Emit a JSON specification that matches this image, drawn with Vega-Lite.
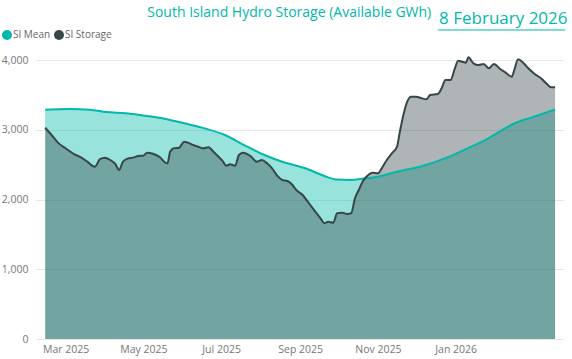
{
  "$schema": "https://vega.github.io/schema/vega-lite/v6.json",
  "width": 529,
  "height": 279,
  "autosize": {"type": "none"},
  "padding": {"left": 35, "top": 60, "right": 8, "bottom": 20},
  "background": "white",
  "config": {
    "view": {"stroke": null},
    "font": "Open Sans",
    "text": {"font": "Open Sans"}
  },
  "title": {
    "text": "South Island Hydro Storage (Available GWh)",
    "anchor": "start",
    "dx": 146,
    "dy": 14,
    "fontSize": 14,
    "fontWeight": "normal",
    "color": "#01B8AA",
    "font": "Open Sans"
  },
  "datasets": {
    "hydro": [
      {"date": "2025-02-13", "series": "SI Mean", "gwh": 3288},
      {"date": "2025-03-04", "series": "SI Mean", "gwh": 3297},
      {"date": "2025-03-20", "series": "SI Mean", "gwh": 3288},
      {"date": "2025-04-02", "series": "SI Mean", "gwh": 3255},
      {"date": "2025-04-17", "series": "SI Mean", "gwh": 3236},
      {"date": "2025-04-28", "series": "SI Mean", "gwh": 3212},
      {"date": "2025-05-11", "series": "SI Mean", "gwh": 3178},
      {"date": "2025-05-22", "series": "SI Mean", "gwh": 3140},
      {"date": "2025-06-02", "series": "SI Mean", "gwh": 3092},
      {"date": "2025-06-18", "series": "SI Mean", "gwh": 3020},
      {"date": "2025-07-04", "series": "SI Mean", "gwh": 2925},
      {"date": "2025-07-19", "series": "SI Mean", "gwh": 2781},
      {"date": "2025-08-04", "series": "SI Mean", "gwh": 2638},
      {"date": "2025-08-18", "series": "SI Mean", "gwh": 2542},
      {"date": "2025-08-29", "series": "SI Mean", "gwh": 2485},
      {"date": "2025-09-07", "series": "SI Mean", "gwh": 2433},
      {"date": "2025-09-20", "series": "SI Mean", "gwh": 2337},
      {"date": "2025-09-30", "series": "SI Mean", "gwh": 2285},
      {"date": "2025-10-10", "series": "SI Mean", "gwh": 2280},
      {"date": "2025-10-21", "series": "SI Mean", "gwh": 2300},
      {"date": "2025-11-01", "series": "SI Mean", "gwh": 2327},
      {"date": "2025-11-16", "series": "SI Mean", "gwh": 2399},
      {"date": "2025-12-04", "series": "SI Mean", "gwh": 2470},
      {"date": "2025-12-25", "series": "SI Mean", "gwh": 2600},
      {"date": "2026-01-10", "series": "SI Mean", "gwh": 2730},
      {"date": "2026-01-26", "series": "SI Mean", "gwh": 2870},
      {"date": "2026-02-05", "series": "SI Mean", "gwh": 2980},
      {"date": "2026-02-16", "series": "SI Mean", "gwh": 3090},
      {"date": "2026-03-04", "series": "SI Mean", "gwh": 3190},
      {"date": "2026-03-20", "series": "SI Mean", "gwh": 3292},
      {"date": "2025-02-13", "series": "SI Storage", "gwh": 3029},
      {"date": "2025-02-18", "series": "SI Storage", "gwh": 2925},
      {"date": "2025-02-23", "series": "SI Storage", "gwh": 2815},
      {"date": "2025-03-01", "series": "SI Storage", "gwh": 2734},
      {"date": "2025-03-08", "series": "SI Storage", "gwh": 2648},
      {"date": "2025-03-13", "series": "SI Storage", "gwh": 2605},
      {"date": "2025-03-18", "series": "SI Storage", "gwh": 2542},
      {"date": "2025-03-24", "series": "SI Storage", "gwh": 2470},
      {"date": "2025-03-28", "series": "SI Storage", "gwh": 2580},
      {"date": "2025-04-01", "series": "SI Storage", "gwh": 2600},
      {"date": "2025-04-05", "series": "SI Storage", "gwh": 2566},
      {"date": "2025-04-09", "series": "SI Storage", "gwh": 2509},
      {"date": "2025-04-12", "series": "SI Storage", "gwh": 2423},
      {"date": "2025-04-15", "series": "SI Storage", "gwh": 2542},
      {"date": "2025-04-19", "series": "SI Storage", "gwh": 2590},
      {"date": "2025-04-23", "series": "SI Storage", "gwh": 2600},
      {"date": "2025-04-27", "series": "SI Storage", "gwh": 2624},
      {"date": "2025-05-01", "series": "SI Storage", "gwh": 2628},
      {"date": "2025-05-04", "series": "SI Storage", "gwh": 2671},
      {"date": "2025-05-09", "series": "SI Storage", "gwh": 2652},
      {"date": "2025-05-14", "series": "SI Storage", "gwh": 2605},
      {"date": "2025-05-18", "series": "SI Storage", "gwh": 2533},
      {"date": "2025-05-20", "series": "SI Storage", "gwh": 2519},
      {"date": "2025-05-22", "series": "SI Storage", "gwh": 2686},
      {"date": "2025-05-25", "series": "SI Storage", "gwh": 2734},
      {"date": "2025-05-29", "series": "SI Storage", "gwh": 2743},
      {"date": "2025-06-02", "series": "SI Storage", "gwh": 2829},
      {"date": "2025-06-05", "series": "SI Storage", "gwh": 2815},
      {"date": "2025-06-09", "series": "SI Storage", "gwh": 2781},
      {"date": "2025-06-13", "series": "SI Storage", "gwh": 2757},
      {"date": "2025-06-17", "series": "SI Storage", "gwh": 2734},
      {"date": "2025-06-21", "series": "SI Storage", "gwh": 2748},
      {"date": "2025-06-25", "series": "SI Storage", "gwh": 2686},
      {"date": "2025-06-29", "series": "SI Storage", "gwh": 2614},
      {"date": "2025-07-02", "series": "SI Storage", "gwh": 2557},
      {"date": "2025-07-05", "series": "SI Storage", "gwh": 2485},
      {"date": "2025-07-08", "series": "SI Storage", "gwh": 2504},
      {"date": "2025-07-12", "series": "SI Storage", "gwh": 2485},
      {"date": "2025-07-15", "series": "SI Storage", "gwh": 2638},
      {"date": "2025-07-18", "series": "SI Storage", "gwh": 2671},
      {"date": "2025-07-24", "series": "SI Storage", "gwh": 2624},
      {"date": "2025-07-29", "series": "SI Storage", "gwh": 2542},
      {"date": "2025-08-02", "series": "SI Storage", "gwh": 2566},
      {"date": "2025-08-06", "series": "SI Storage", "gwh": 2519},
      {"date": "2025-08-10", "series": "SI Storage", "gwh": 2447},
      {"date": "2025-08-14", "series": "SI Storage", "gwh": 2342},
      {"date": "2025-08-18", "series": "SI Storage", "gwh": 2280},
      {"date": "2025-08-22", "series": "SI Storage", "gwh": 2265},
      {"date": "2025-08-26", "series": "SI Storage", "gwh": 2208},
      {"date": "2025-08-29", "series": "SI Storage", "gwh": 2136},
      {"date": "2025-09-03", "series": "SI Storage", "gwh": 2065},
      {"date": "2025-09-07", "series": "SI Storage", "gwh": 1969},
      {"date": "2025-09-12", "series": "SI Storage", "gwh": 1849},
      {"date": "2025-09-17", "series": "SI Storage", "gwh": 1730},
      {"date": "2025-09-20", "series": "SI Storage", "gwh": 1659},
      {"date": "2025-09-23", "series": "SI Storage", "gwh": 1682},
      {"date": "2025-09-27", "series": "SI Storage", "gwh": 1668},
      {"date": "2025-09-30", "series": "SI Storage", "gwh": 1802},
      {"date": "2025-10-04", "series": "SI Storage", "gwh": 1811},
      {"date": "2025-10-08", "series": "SI Storage", "gwh": 1792},
      {"date": "2025-10-11", "series": "SI Storage", "gwh": 1802},
      {"date": "2025-10-14", "series": "SI Storage", "gwh": 2017},
      {"date": "2025-10-17", "series": "SI Storage", "gwh": 2136},
      {"date": "2025-10-20", "series": "SI Storage", "gwh": 2256},
      {"date": "2025-10-23", "series": "SI Storage", "gwh": 2327},
      {"date": "2025-10-28", "series": "SI Storage", "gwh": 2385},
      {"date": "2025-11-01", "series": "SI Storage", "gwh": 2375},
      {"date": "2025-11-04", "series": "SI Storage", "gwh": 2447},
      {"date": "2025-11-08", "series": "SI Storage", "gwh": 2566},
      {"date": "2025-11-12", "series": "SI Storage", "gwh": 2662},
      {"date": "2025-11-16", "series": "SI Storage", "gwh": 2757},
      {"date": "2025-11-18", "series": "SI Storage", "gwh": 2949},
      {"date": "2025-11-21", "series": "SI Storage", "gwh": 3212},
      {"date": "2025-11-24", "series": "SI Storage", "gwh": 3402},
      {"date": "2025-11-27", "series": "SI Storage", "gwh": 3474},
      {"date": "2025-12-01", "series": "SI Storage", "gwh": 3474},
      {"date": "2025-12-04", "series": "SI Storage", "gwh": 3460},
      {"date": "2025-12-09", "series": "SI Storage", "gwh": 3436},
      {"date": "2025-12-12", "series": "SI Storage", "gwh": 3498},
      {"date": "2025-12-18", "series": "SI Storage", "gwh": 3513},
      {"date": "2025-12-21", "series": "SI Storage", "gwh": 3594},
      {"date": "2025-12-24", "series": "SI Storage", "gwh": 3713},
      {"date": "2025-12-28", "series": "SI Storage", "gwh": 3713},
      {"date": "2025-12-31", "series": "SI Storage", "gwh": 3857},
      {"date": "2026-01-03", "series": "SI Storage", "gwh": 3990},
      {"date": "2026-01-06", "series": "SI Storage", "gwh": 3976},
      {"date": "2026-01-09", "series": "SI Storage", "gwh": 3962},
      {"date": "2026-01-11", "series": "SI Storage", "gwh": 4038},
      {"date": "2026-01-15", "series": "SI Storage", "gwh": 3952},
      {"date": "2026-01-19", "series": "SI Storage", "gwh": 3928},
      {"date": "2026-01-23", "series": "SI Storage", "gwh": 3943},
      {"date": "2026-01-27", "series": "SI Storage", "gwh": 3881},
      {"date": "2026-01-31", "series": "SI Storage", "gwh": 3943},
      {"date": "2026-02-05", "series": "SI Storage", "gwh": 3871},
      {"date": "2026-02-09", "series": "SI Storage", "gwh": 3823},
      {"date": "2026-02-14", "series": "SI Storage", "gwh": 3761},
      {"date": "2026-02-16", "series": "SI Storage", "gwh": 3857},
      {"date": "2026-02-19", "series": "SI Storage", "gwh": 4010},
      {"date": "2026-02-23", "series": "SI Storage", "gwh": 3962},
      {"date": "2026-02-27", "series": "SI Storage", "gwh": 3881},
      {"date": "2026-03-04", "series": "SI Storage", "gwh": 3799},
      {"date": "2026-03-09", "series": "SI Storage", "gwh": 3737},
      {"date": "2026-03-13", "series": "SI Storage", "gwh": 3666},
      {"date": "2026-03-17", "series": "SI Storage", "gwh": 3608},
      {"date": "2026-03-20", "series": "SI Storage", "gwh": 3608}
    ]
  },
  "layer": [
    {
      "data": {"name": "hydro"},
      "mark": {"type": "area", "opacity": 0.4, "interpolate": "monotone"},
      "encoding": {
        "x": {
          "field": "date", "type": "temporal",
          "scale": {"domain": [{"year": 2025, "month": 2, "date": 5}, {"year": 2026, "month": 3, "date": 27}]},
          "axis": {
            "title": null,
            "format": "%b %Y",
            "values": [
              {"year": 2025, "month": 3, "date": 1},
              {"year": 2025, "month": 5, "date": 1},
              {"year": 2025, "month": 7, "date": 1},
              {"year": 2025, "month": 9, "date": 1},
              {"year": 2025, "month": 11, "date": 1},
              {"year": 2026, "month": 1, "date": 1}
            ],
            "grid": false, "domain": false, "ticks": false,
            "labelPadding": 5, "labelFontSize": 10.5, "labelColor": "#777777",
            "labelFont": "Open Sans"
          }
        },
        "y": {
          "field": "gwh", "type": "quantitative", "stack": null,
          "scale": {"domain": [0, 4000], "nice": false},
          "axis": {
            "title": null,
            "values": [0, 1000, 2000, 3000, 4000],
            "format": ",d",
            "domain": false, "ticks": false,
            "gridColor": "#e6e6e6", "gridWidth": 1,
            "labelPadding": 7, "labelFontSize": 10.5, "labelColor": "#777777",
            "labelFont": "Open Sans"
          }
        },
        "color": {
          "field": "series", "type": "nominal",
          "scale": {"domain": ["SI Mean", "SI Storage"], "range": ["#01B8AA", "#374649"]},
          "legend": {
            "title": null, "orient": "none", "direction": "horizontal",
            "legendX": -33, "legendY": -30,
            "symbolType": "circle", "symbolSize": 100, "symbolOpacity": 1,
            "symbolStrokeWidth": 0,
            "labelFontSize": 10, "labelColor": "#666666", "labelFont": "Open Sans",
            "labelOffset": 1, "columnPadding": 3
          }
        }
      }
    },
    {
      "data": {"name": "hydro"},
      "mark": {"type": "line", "strokeWidth": 2, "interpolate": "monotone"},
      "encoding": {
        "x": {"field": "date", "type": "temporal"},
        "y": {"field": "gwh", "type": "quantitative"},
        "color": {"field": "series", "type": "nominal"}
      }
    },
    {
      "data": {"values": [{}]},
      "mark": {"type": "text", "align": "left", "baseline": "alphabetic", "fontSize": 17, "font": "Open Sans", "color": "#01B8AA"},
      "encoding": {
        "x": {"datum": {"year": 2025, "month": 12, "date": 19}, "type": "temporal"},
        "y": {"datum": 4515, "type": "quantitative"},
        "text": {"value": "8 February 2026"}
      }
    },
    {
      "data": {"values": [{}]},
      "mark": {"type": "rule", "color": "#01B8AA", "strokeWidth": 1},
      "encoding": {
        "x": {"datum": {"year": 2025, "month": 12, "date": 18}, "type": "temporal"},
        "x2": {"datum": {"year": 2026, "month": 3, "date": 28}},
        "y": {"datum": 4430, "type": "quantitative"}
      }
    }
  ]
}
